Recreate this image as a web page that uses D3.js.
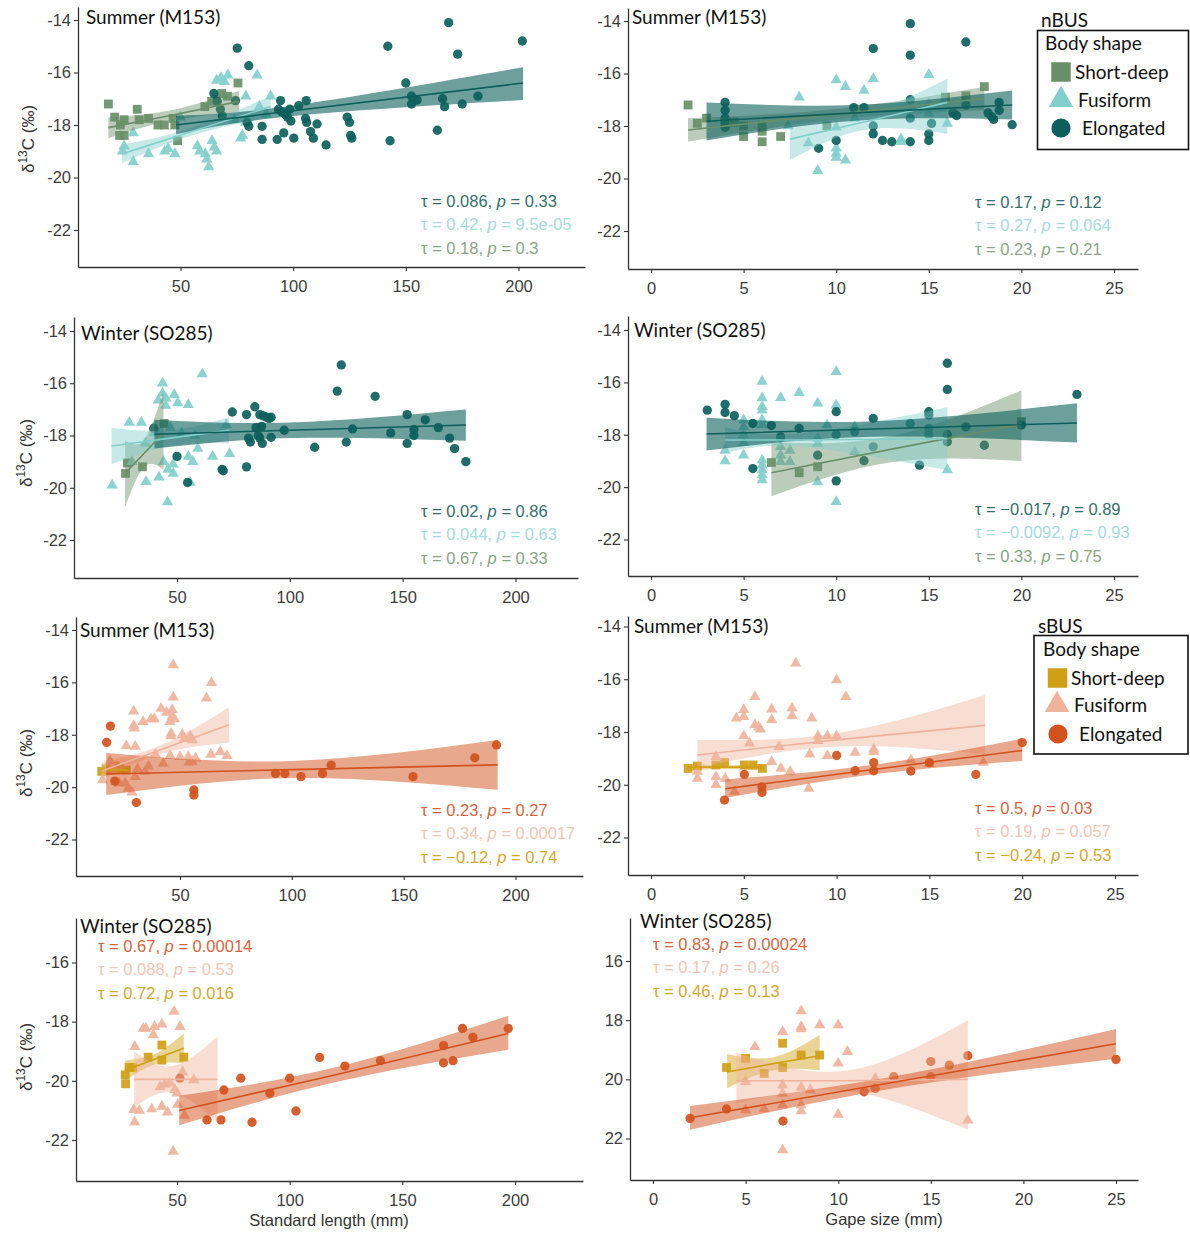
<!DOCTYPE html>
<html><head><meta charset="utf-8">
<script src="https://cdn.jsdelivr.net/npm/d3@7"></script>
<style>body{margin:0;background:#fff}svg{display:block}</style>
</head><body>
<svg id="c" width="1190" height="1234"></svg>
<script>
// ---------------- DATA ----------------
const groups = ["Short-deep","Fusiform","Elongated"];
const xTicksSL = [50,100,150,200];
const xTicksGape = [0,5,10,15,20,25];
const yTicksA = [-22,-20,-18,-16,-14];
const yTicksB = [-22,-20,-18,-16];
const titles = ["Summer (M153)","Summer (M153)","Winter (SO285)","Winter (SO285)","Summer (M153)","Summer (M153)","Winter (SO285)","Winter (SO285)"];

// nBUS summer, standard length
const n1E = [[75.2,-15.07],[80.3,-15.74],[64.8,-16.8],[66.3,-17.1],[67.7,-17.4],[74.4,-17.07],[68.5,-17.65],[79.6,-17.9],[80.3,-18.05],[86.2,-18.05],[86.2,-18.55],[92.9,-18.55],[94.4,-17.07],[93.5,-17.4],[95,-17.5],[96.5,-17.6],[97.5,-17.7],[98.5,-17.4],[99,-17.85],[95.8,-18.3],[100.3,-18.5],[102.5,-17.26],[105.8,-17.07],[105.5,-17.75],[106,-17.9],[107.7,-18.25],[109,-18.5],[110.6,-17.96],[114.6,-18.76],[124,-17.7],[125,-17.9],[125.5,-18.4],[126,-18.5],[142,-15.0],[143,-18.6],[150,-16.4],[152.5,-16.9],[152.5,-17.2],[155,-17.05],[164,-18.2],[166.3,-17.0],[167.2,-17.3],[169,-14.1],[173,-15.3],[175,-17.2],[182,-16.9],[201.7,-14.8]];
const n1F = [[24.2,-19.0],[25,-18.8],[29,-18.3],[29,-19.4],[35.8,-19.1],[43,-19.0],[44.5,-18.9],[47.5,-19.1],[50,-17.7],[57.5,-18.8],[58.5,-19.0],[61,-19.1],[61.7,-19.3],[62.5,-19.6],[64,-18.6],[65,-18.85],[66,-19.0],[66,-16.3],[68,-16.2],[69.5,-16.35],[71,-16.1],[74,-17.8],[76.7,-18.5],[77.5,-18.4],[79,-17.9],[79,-16.9],[84,-16.1],[85,-17.3],[90,-16.9],[88,-17.6]];
const n1S = [[18,-17.2],[20.8,-17.7],[23.3,-18.0],[25,-17.8],[23,-18.4],[25,-18.4],[30.8,-17.4],[31.7,-17.8],[35.8,-17.75],[40,-18.0],[42.8,-18.0],[46.7,-17.75],[47.5,-18.0],[48.7,-18.6],[60.8,-17.3],[63.8,-17.1],[68.3,-16.8],[70.8,-16.9],[75.5,-16.4],[66,-17.0]];
const n1E_fit = [[48,-18.0,-18.35,-17.65],[100,-17.46,-17.66,-17.26],[202,-16.4,-17.05,-15.8]];
const n1F_fit = [[24,-19.1,-19.45,-18.75],[55,-18.25,-18.4,-18.1],[90,-17.3,-17.7,-16.9]];
const n1S_fit = [[18,-18.1,-18.5,-17.7],[45,-17.65,-17.85,-17.45],[76,-17.1,-17.5,-16.7]];

// nBUS summer, gape
const n2E = [[4,-17.1],[4,-17.4],[4,-17.7],[4,-17.9],[4,-18.05],[9.05,-18.85],[10,-18.55],[10.95,-17.3],[11.5,-17.3],[12,-15.05],[12,-18.0],[12,-18.3],[12.5,-18.55],[13,-18.6],[14,-14.1],[14,-15.3],[14,-17.0],[14,-17.7],[14,-18.6],[15,-18.3],[15,-18.55],[15.15,-17.9],[16.3,-17.5],[16.5,-17.6],[17,-14.8],[17,-17.2],[18.2,-17.5],[18.4,-17.65],[18.5,-17.75],[18.8,-17.1],[18.8,-17.4],[19.5,-17.95]];
const n2F = [[7.4,-18.0],[8,-16.9],[8.5,-18.65],[9,-19.7],[10,-16.25],[10,-18.05],[10,-18.85],[10,-19.05],[10,-19.2],[10.5,-16.5],[10.5,-19.3],[11,-17.7],[11.5,-16.65],[12,-16.2],[13.5,-18.5],[13.5,-18.6],[15,-16.05],[15,-17.15],[15,-17.5],[16,-17.9]];
const n2S = [[2,-17.2],[2.5,-17.9],[3,-17.7],[4.5,-17.85],[5,-18.0],[5,-18.4],[6,-18.0],[6,-18.2],[6,-18.6],[7,-18.4],[9.5,-18.0],[15.9,-16.9],[17,-16.85],[18,-16.5]];
const n2E_fit = [[3,-17.82,-18.55,-17.1],[11,-17.5,-17.8,-17.2],[19.5,-17.2,-17.75,-16.65]];
const n2F_fit = [[7.5,-18.5,-19.3,-17.8],[11.5,-17.85,-18.15,-17.55],[16,-17.1,-18.3,-16.2]];
const n2S_fit = [[2,-18.15,-18.6,-17.7],[10,-17.55,-17.75,-17.35],[18,-16.95,-17.4,-16.5]];

// nBUS winter, standard length
const n3E = [[39.7,-17.72],[50,-18.8],[54.7,-19.8],[70,-19.3],[70.5,-19.35],[74.5,-17.1],[80.8,-17.2],[80.8,-19.2],[81.7,-18.1],[82.5,-18.25],[84.5,-16.9],[85,-17.7],[86,-18.0],[86.7,-18.1],[86.7,-17.2],[88.3,-17.25],[89.7,-17.3],[90.8,-17.35],[91.7,-17.3],[87.5,-17.65],[87.8,-18.3],[91.7,-18.07],[97.5,-17.8],[111,-18.45],[121,-16.3],[122.8,-15.3],[125,-18.25],[127.8,-17.75],[137.8,-16.5],[144.7,-17.9],[152,-17.2],[152,-18.3],[155,-17.77],[155,-18.0],[160,-17.4],[165.8,-17.7],[170.8,-18.1],[173,-18.5],[178,-19.0]];
const n3F = [[21.3,-19.9],[28.8,-17.5],[34.2,-17.5],[36.3,-19.77],[40,-17.7],[41.7,-16.65],[43.6,-16.0],[43.6,-16.38],[45.1,-16.57],[48.8,-16.44],[50.3,-16.76],[45,-16.85],[55,-16.82],[61.2,-15.65],[45.8,-20.55],[48.3,-19.45],[48.3,-19.1],[44,-19.0],[46,-19.3],[42,-19.6],[55,-18.8],[57,-19.0],[55.8,-19.8],[59.2,-18.5],[65.8,-18.8],[73.3,-18.7],[71.8,-17.6],[40,-17.9],[47,-17.7],[52,-17.9],[58,-18.0],[36,-18.3],[30,-19.0]];
const n3S = [[44.3,-17.54],[27.2,-19.45],[34.7,-19.2],[28,-19.05]];
const n3E_fit = [[40,-17.95,-18.5,-17.4],[100,-17.8,-18.1,-17.5],[178,-17.6,-18.2,-17.0]];
const n3F_fit = [[21,-18.4,-19.1,-17.7],[47,-18.1,-18.4,-17.8],[73,-17.8,-18.3,-17.3]];
const n3S_fit = [[27,-19.45,-20.75,-18.2],[35.5,-18.68,-19.2,-18.15],[44,-17.9,-19.3,-16.3]];

// nBUS winter, gape
const n4E = [[3.04,-17.06],[4,-16.84],[4,-17.15],[4.5,-17.27],[5.5,-17.57],[5.5,-19.29],[6.5,-17.65],[7,-18.08],[8,-17.76],[9,-18.78],[10,-17.12],[10,-18.0],[10,-19.76],[11,-17.88],[11.5,-18.99],[12,-17.38],[12,-18.46],[14,-17.57],[14.5,-19.16],[15,-17.12],[15,-17.25],[15,-17.76],[15,-18.0],[16,-15.27],[16,-16.27],[16,-18.0],[16,-18.27],[17,-17.7],[18,-18.4],[20,-17.63],[23,-16.46]];
const n4F = [[4,-18.6],[4,-19.0],[5,-17.44],[5,-17.7],[5,-18.0],[5,-18.3],[5,-18.78],[6,-15.97],[6,-16.6],[6,-16.93],[6,-17.06],[6,-17.44],[6,-17.63],[6,-18.97],[6,-19.16],[6,-19.35],[6,-19.54],[6,-19.73],[7,-16.59],[7,-18.46],[7,-18.78],[7,-19.03],[7.5,-18.6],[7.5,-19.03],[8,-16.4],[9,-16.8],[9,-18.14],[9,-18.33],[9,-19.8],[9.5,-17.63],[10,-15.59],[10,-16.87],[10,-20.56],[11,-17.7],[11,-18.65],[16,-19.35]];
const n4S = [[6.5,-19.06],[8,-19.45],[9,-19.22],[20,-17.5]];
const n4E_fit = [[3,-17.97,-18.6,-17.35],[12,-17.78,-18.08,-17.48],[23,-17.55,-18.3,-16.8]];
const n4F_fit = [[4,-18.2,-18.7,-17.7],[8,-18.2,-18.45,-17.95],[16,-18.15,-19.35,-16.95]];
const n4S_fit = [[6.5,-19.45,-20.35,-18.3],[13,-18.55,-19.05,-18.05],[20,-17.6,-19.0,-16.3]];

// sBUS summer, standard length
const s5E = [[17.2,-18.29],[18.9,-17.67],[20.9,-19.77],[30.5,-20.59],[56.2,-20.11],[56.2,-20.3],[92.7,-19.48],[96.9,-19.48],[104.1,-19.6],[113.7,-19.48],[117.6,-19.16],[154.2,-19.6],[181.8,-18.88],[191.5,-18.39]];
const s5F = [[47,-15.34],[47,-16.57],[64.1,-16.01],[61.8,-16.61],[41.5,-17.0],[44,-17.15],[46.5,-17.05],[46.5,-17.3],[47.5,-17.4],[45.5,-17.5],[29.3,-17.1],[29.3,-17.65],[29.5,-17.75],[33.5,-17.5],[37,-17.4],[38.5,-17.4],[46,-17.95],[46,-18.05],[51,-18.0],[52,-18.15],[54.5,-18.05],[55.5,-18.2],[26,-18.43],[30,-18.45],[39,-18.75],[42.5,-19.1],[45.6,-18.8],[50,-18.84],[53.7,-18.84],[63.8,-18.75],[68,-18.65],[71,-18.8],[55.4,-19.03],[57,-18.9],[54,-19.05],[15.4,-19.73],[18.7,-19.0],[20,-19.25],[23,-19.85],[25.5,-19.85],[26.8,-20.05],[28.5,-20.2],[30,-19.6],[31,-19.3],[34.4,-19.4],[36,-19.2]];
const s5S = [[15,-19.4],[17,-19.3],[19,-19.35],[21,-19.2],[23,-19.3],[26,-19.35]];
const s5E_fit = [[17,-19.5,-20.3,-18.7],[100,-19.33,-19.65,-19.0],[192,-19.15,-20.1,-18.2]];
const s5F_fit = [[15,-19.38,-19.7,-19.05],[42,-18.55,-18.72,-18.38],[72,-17.62,-18.3,-16.95]];
const s5S_fit = [[15,-19.33,-19.45,-19.2],[21,-19.33,-19.4,-19.26],[27,-19.35,-19.48,-19.22]];

// sBUS summer, gape
const s6E = [[3.96,-20.58],[5.03,-19.61],[5.98,-20.08],[5.98,-20.29],[10,-18.89],[11,-19.47],[12,-19.16],[12,-19.47],[14,-19.48],[15,-19.16],[17.5,-19.61],[20,-18.4]];
const s6F = [[2.5,-19.5],[2.5,-19.76],[3.5,-18.94],[3.5,-19.7],[3.5,-20.0],[4,-19.76],[4.5,-20.27],[4.6,-17.48],[5,-17.16],[5,-17.42],[5,-18.15],[5.3,-18.43],[5.6,-16.66],[5.6,-17.73],[5.8,-17.82],[5.9,-17.9],[6.5,-17.14],[6.5,-17.54],[6.5,-19.13],[6.9,-18.56],[7,-19.38],[7.6,-17.1],[7.6,-17.39],[7.8,-15.39],[7.5,-19.5],[8.5,-20.14],[8.55,-18.84],[8.66,-17.48],[9,-18.15],[9,-18.33],[9.5,-18.15],[9.5,-18.9],[10,-16.03],[10,-18.15],[10.5,-16.66],[11,-18.78],[12,-18.65],[12,-18.75],[14,-19.06],[15,-19.2],[17.9,-19.16]];
const s6S = [[2.0,-19.38],[2.5,-19.29],[3.5,-19.25],[3.96,-19.16],[5.03,-19.25],[5.5,-19.25],[6,-19.38]];
const s6E_fit = [[4,-20.15,-20.5,-19.8],[12,-19.42,-19.6,-19.24],[20,-18.7,-19.1,-18.25]];
const s6F_fit = [[2.5,-18.87,-19.35,-18.3],[10,-18.3,-18.55,-18.05],[18,-17.75,-18.85,-16.6]];
const s6S_fit = [[2,-19.33,-19.45,-19.2],[4,-19.33,-19.4,-19.26],[6,-19.33,-19.45,-19.2]];

// sBUS winter, standard length
const s7E = [[51.3,-19.91],[63.3,-21.32],[69.5,-21.32],[70.8,-20.31],[78.3,-19.91],[83.3,-21.4],[91.2,-20.42],[100,-19.91],[102.8,-21.02],[113.3,-19.21],[124.5,-19.5],[140.3,-19.32],[168.3,-18.81],[168.3,-19.39],[172.5,-19.32],[176.7,-18.23],[181.3,-18.53],[197,-18.23]];
const s7F = [[48.7,-17.66],[51.3,-18.17],[48.3,-22.39],[31.3,-18.85],[35,-18.23],[36.2,-18.23],[40,-18.17],[43.3,-18.09],[39.5,-18.45],[30.8,-20.98],[33.3,-21.0],[31.2,-21.4],[38.8,-20.95],[43.3,-20.87],[45.8,-21.06],[42.5,-20.2],[44.5,-20.12],[46.7,-20.08],[49,-20.3],[50,-20.42],[50.3,-20.8],[53.3,-21.17],[57.5,-19.97],[52.5,-19.7]];
const s7S = [[27,-19.8],[27.2,-20.1],[28.7,-19.55],[30.3,-19.55],[37.2,-19.2],[43.3,-18.79],[43.3,-19.3],[53,-19.2]];
const s7E_fit = [[51,-21.0,-21.5,-20.5],[120,-19.8,-20.05,-19.55],[197,-18.4,-18.95,-17.8]];
const s7F_fit = [[31,-19.95,-20.9,-19.0],[48,-19.95,-20.4,-19.5],[68,-19.95,-21.4,-18.5]];
const s7S_fit = [[27,-19.65,-20.0,-19.3],[40,-19.27,-19.45,-19.1],[53,-18.9,-19.4,-18.4]];

// sBUS winter, gape
const s8E = [[2,-21.32],[3.97,-21.0],[7.02,-21.41],[11.4,-20.42],[12,-20.31],[13,-19.91],[15,-19.4],[15,-19.91],[16,-19.52],[17,-19.2],[25,-19.33]];
const s8F = [[5.5,-18.9],[5,-20.08],[5,-21.04],[6,-21.0],[7,-18.39],[7,-20.2],[7,-20.48],[7,-20.87],[7,-22.39],[8,-17.69],[8,-18.22],[8,-18.3],[8,-20.28],[8,-20.87],[8,-21.07],[8.5,-20.36],[9,-18.16],[10,-18.16],[10,-19.46],[10,-21.19],[10.5,-19.07],[12,-19.97],[17,-21.38]];
const s8S = [[3.97,-19.6],[5,-19.29],[6,-19.8],[7,-18.78],[7,-19.6],[8,-19.18],[9,-19.18]];
const s8E_fit = [[2,-21.3,-21.7,-20.9],[13,-20.1,-20.3,-19.9],[25,-18.8,-19.3,-18.3]];
const s8F_fit = [[4.5,-20.05,-20.8,-19.1],[10.5,-20.05,-20.4,-19.7],[17,-20.0,-21.7,-18.0]];
const s8S_fit = [[4,-19.75,-20.3,-19.15],[6.5,-19.47,-19.7,-19.25],[9,-19.2,-19.7,-18.5]];

// Kendall tau / p annotations: Elongated, Fusiform, Short-deep
const ann1 = [["0.086","0.33"],["0.42","9.5e-05"],["0.18","0.3"]];
const ann2 = [["0.17","0.12"],["0.27","0.064"],["0.23","0.21"]];
const ann3 = [["0.02","0.86"],["0.044","0.63"],["0.67","0.33"]];
const ann4 = [["\u22120.017","0.89"],["\u22120.0092","0.93"],["0.33","0.75"]];
const ann5 = [["0.23","0.27"],["0.34","0.00017"],["\u22120.12","0.74"]];
const ann6 = [["0.5","0.03"],["0.19","0.057"],["\u22120.24","0.53"]];
const ann7 = [["0.67","0.00014"],["0.088","0.53"],["0.72","0.016"]];
const ann8 = [["0.83","0.00024"],["0.17","0.26"],["0.46","0.13"]];

// ---------------- STYLE / LAYOUT ----------------
const pal = {
  n:{S:"#698f68",F:"#82cfcc",E:"#0c5f5b", tE:"#33706c", tF:"#a6dbda", tS:"#8aa488", rib:{S:0.45,F:0.45,E:0.6}},
  s:{S:"#cf9f17",F:"#efb39c",E:"#d1521d", tE:"#d6653e", tF:"#f4c5b3", tS:"#d5a72d", rib:{S:0.45,F:0.45,E:0.5}}
};
const FONT = "'Liberation Sans', Arial, sans-serif";
const LFONT = "Lato, 'Noto Sans', sans-serif";

const panels = [
 {box:{left:78,right:585,top:7,bottom:267,xt:[50,180.5,200,518.5],yt:[-14,20,-22,230]},xt:xTicksSL,yt:yTicksA,p:"n",d:{S:n1S,F:n1F,E:n1E},f:{S:n1S_fit,F:n1F_fit,E:n1E_fit},ann:ann1,annPos:[421,201],tPos:[86,17],ylab:[28,139]},
 {box:{left:628,right:1138,top:8,bottom:269,xt:[0,651,25,1114],yt:[-14,21,-22,231]},xt:xTicksGape,yt:yTicksA,p:"n",d:{S:n2S,F:n2F,E:n2E},f:{S:n2S_fit,F:n2F_fit,E:n2E_fit},ann:ann2,annPos:[975,202],tPos:[632,17]},
 {box:{left:74,right:578,top:317,bottom:578,xt:[50,177,200,515.5],yt:[-14,331,-22,540]},xt:xTicksSL,yt:yTicksA,p:"n",d:{S:n3S,F:n3F,E:n3E},f:{S:n3S_fit,F:n3F_fit,E:n3E_fit},ann:ann3,annPos:[421,511],tPos:[81,333],ylab:[26,453]},
 {box:{left:628,right:1138,top:316,bottom:576,xt:[0,651,25,1114],yt:[-14,330,-22,539.5]},xt:xTicksGape,yt:yTicksA,p:"n",d:{S:n4S,F:n4F,E:n4E},f:{S:n4S_fit,F:n4F_fit,E:n4E_fit},ann:ann4,annPos:[975,509],tPos:[634,330]},
 {box:{left:76,right:583,top:617,bottom:876,xt:[50,180,200,515.5],yt:[-14,630,-22,839.5]},xt:xTicksSL,yt:yTicksA,p:"s",d:{S:s5S,F:s5F,E:s5E},f:{S:s5S_fit,F:s5F_fit,E:s5E_fit},ann:ann5,annPos:[421,810],tPos:[80,630],ylab:[26,763]},
 {box:{left:628,right:1138,top:616,bottom:875,xt:[0,651,25,1115],yt:[-14,626.5,-22,837.5]},xt:xTicksGape,yt:yTicksA,p:"s",d:{S:s6S,F:s6F,E:s6E},f:{S:s6S_fit,F:s6F_fit,E:s6E_fit},ann:ann6,annPos:[975,808],tPos:[634,626]},
 {box:{left:76,right:583,top:918,bottom:1181,xt:[50,177,200,515],yt:[-16,962.5,-22,1140]},xt:xTicksSL,yt:yTicksB,p:"s",d:{S:s7S,F:s7F,E:s7E},f:{S:s7S_fit,F:s7F_fit,E:s7E_fit},ann:ann7,annPos:[98,946],tPos:[80,926],ylab:[26,1057],xlab:["Standard length (mm)",329,1220]},
 {box:{left:630,right:1138,top:918,bottom:1180,xt:[0,653,25,1116],yt:[-16,961,-22,1138.5]},xt:xTicksGape,yt:yTicksB,p:"s",d:{S:s8S,F:s8F,E:s8E},f:{S:s8S_fit,F:s8F_fit,E:s8E_fit},ann:ann8,annPos:[653,944],tPos:[640,921],xlab:["Gape size (mm)",884,1219],absTicks:true}
];

const svg = d3.select("#c");
const symType = {S:d3.symbolSquare, F:d3.symbolTriangle, E:d3.symbolCircle};
const symSize = {S:78, F:55, E:68};
const keys = ["S","F","E"];

panels.forEach((P,i)=>{
  const B = P.box;
  const xa = d3.scaleLinear().domain([B.xt[0],B.xt[2]]).range([B.xt[1],B.xt[3]]);
  const ya = d3.scaleLinear().domain([B.yt[0],B.yt[2]]).range([B.yt[1],B.yt[3]]);
  const x = d3.scaleLinear().domain([xa.invert(B.left),xa.invert(B.right)]).range([B.left,B.right]);
  const y = d3.scaleLinear().domain([ya.invert(B.bottom),ya.invert(B.top)]).range([B.bottom,B.top]);
  const C = pal[P.p];
  const g = svg.append("g");

  // points
  keys.forEach(k=>{
    g.append("g").selectAll("path").data(P.d[k]).join("path")
      .attr("transform",d=>`translate(${x(d[0])},${y(d[1])})`)
      .attr("d",d3.symbol().type(symType[k]).size(symSize[k]))
      .attr("fill",C[k]).attr("fill-opacity",0.92);
  });
  // ribbons
  const area = d3.area().x(d=>x(d[0])).y0(d=>y(d[2])).y1(d=>y(d[3])).curve(d3.curveNatural);
  const line = d3.line().x(d=>x(d[0])).y(d=>y(d[1]));
  keys.forEach(k=>{
    g.append("path").attr("d",area(P.f[k])).attr("fill",C[k]).attr("fill-opacity",C.rib[k]);
  });
  keys.forEach(k=>{
    g.append("path").attr("d",line(P.f[k])).attr("fill","none").attr("stroke",C[k]).attr("stroke-width",1.6);
  });

  // axes
  const fmt = P.absTicks ? (d=>String(Math.abs(d))) : (d=> d<0 ? "-"+Math.abs(d) : String(d));
  const gx = g.append("g").attr("transform",`translate(0,${B.bottom})`)
    .call(d3.axisBottom(x).tickValues(P.xt).tickSizeInner(4).tickSizeOuter(0).tickPadding(9));
  const gy = g.append("g").attr("transform",`translate(${B.left},0)`)
    .call(d3.axisLeft(y).tickValues(P.yt).tickFormat(fmt).tickSizeInner(4).tickSizeOuter(0).tickPadding(3));
  [gx,gy].forEach(a=>{
    a.select(".domain").attr("stroke","#333").attr("stroke-width",1.3);
    a.selectAll(".tick line").attr("stroke","#333").attr("stroke-width",1.1);
    a.selectAll(".tick text").attr("fill","#3d3d3d").attr("font-size",16.5).attr("font-family",FONT);
  });

  // panel title
  g.append("text").attr("x",P.tPos[0]).attr("y",P.tPos[1]).attr("dy","0.35em")
    .attr("font-family",LFONT).attr("font-size",19).attr("fill","#111").text(titles[i]);

  // annotations
  const tc = [C.tE, C.tF, C.tS];
  P.ann.forEach((a,j)=>{
    const t = g.append("text").attr("x",P.annPos[0]).attr("y",P.annPos[1]+j*23.5).attr("dy","0.35em")
      .attr("font-family",FONT).attr("font-size",16.5).attr("fill",tc[j]);
    t.append("tspan").text("\u03c4 = "+a[0]+", ");
    t.append("tspan").attr("font-style","italic").text("p");
    t.append("tspan").text(" = "+a[1]);
  });

  // y label
  if (P.ylab){
    const t = g.append("text").attr("transform",`translate(${P.ylab[0]},${P.ylab[1]}) rotate(-90)`)
      .attr("text-anchor","middle").attr("dy","0.35em").attr("font-family",FONT).attr("font-size",17).attr("fill","#333");
    t.append("tspan").text("\u03b4");
    t.append("tspan").attr("dy",-7).attr("font-size",12).text("13");
    t.append("tspan").attr("dy",7).text("C (\u2030)");
  }
  if (P.xlab){
    g.append("text").attr("x",P.xlab[1]).attr("y",P.xlab[2]).attr("dy","0.35em").attr("text-anchor","middle")
      .attr("font-family",FONT).attr("font-size",16.5).attr("fill","#333").text(P.xlab[0]);
  }
});

// legends
function legend(name, C, L){
  const g = svg.append("g");
  g.append("text").attr("x",L.nx).attr("y",L.ny).attr("dy","0.35em").attr("font-family",LFONT).attr("font-size",19).attr("fill","#111").text(name);
  g.append("rect").attr("x",L.bx).attr("y",L.by).attr("width",L.bw).attr("height",L.bh)
    .attr("fill","#fff").attr("stroke","#111").attr("stroke-width",1.6);
  g.append("text").attr("x",L.hx).attr("y",L.hy).attr("dy","0.35em").attr("font-family",LFONT).attr("font-size",19).attr("fill","#111").text("Body shape");
  const sz = {S:380, F:260, E:290};
  keys.forEach((k,j)=>{
    g.append("path").attr("transform",`translate(${L.sx[j]},${L.sy[j]})`)
      .attr("d",d3.symbol().type(symType[k]).size(sz[k])).attr("fill",C[k]);
    g.append("text").attr("x",L.tx[j]).attr("y",L.sy[j]).attr("dy","0.35em").attr("font-family",LFONT).attr("font-size",19).attr("fill","#111").text(groups[j]);
  });
}
legend("nBUS", pal.n, {nx:1041,ny:20,bx:1037.5,by:30.5,bw:151,bh:119,hx:1045,hy:43,sx:[1061,1061,1061],sy:[72,100,128],tx:[1075,1078,1082]});
legend("sBUS", pal.s, {nx:1038,ny:626,bx:1034,by:635.5,bw:154,bh:118.5,hx:1043,hy:649,sx:[1057.5,1057,1058],sy:[678,705,734],tx:[1071,1074,1079]});
</script>
</body></html>
